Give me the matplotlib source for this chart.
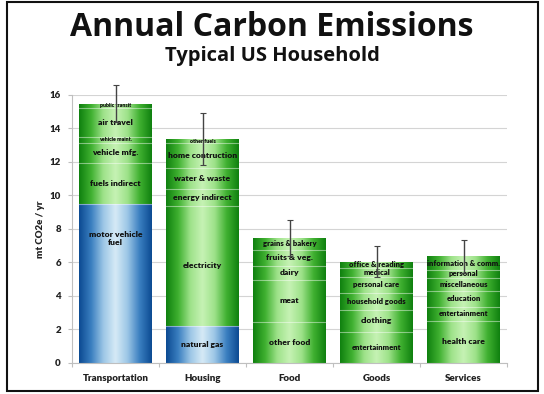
import numpy as np
import matplotlib
matplotlib.use("Agg")
import matplotlib.pyplot as plt
from matplotlib.patches import Rectangle
from matplotlib.colors import LinearSegmentedColormap

categories = ["Transportation", "Housing", "Food", "Goods", "Services"]

# stacked segments per category, bottom to top
seg_labels = [
    ["motor vehicle\nfuel", "fuels indirect", "vehicle mfg.", "vehicle maint.", "air travel", "public transit"],
    ["natural gas", "electricity", "energy indirect", "water & waste", "home contruction", "other fuels"],
    ["other food", "meat", "dairy", "fruits & veg.", "grains & bakery"],
    ["entertainment", "clothing", "household goods", "personal care", "medical", "office & reading"],
    ["health care", "entertainment", "education", "miscellaneous", "personal", "information & comm."],
]
seg_values = [
    [9.5, 2.44, 1.2, 0.36, 1.75, 0.24],
    [2.22, 7.16, 1.0, 1.26, 1.5, 0.21],
    [2.46, 2.49, 0.84, 0.96, 0.72],
    [1.86, 1.3, 1.03, 0.92, 0.54, 0.38],
    [2.51, 0.81, 0.99, 0.78, 0.46, 0.8],
]
# blue = direct fuel use, green = other
seg_kind = [
    ["blue", "green", "green", "green", "green", "green"],
    ["blue", "green", "green", "green", "green", "green"],
    ["green"] * 5,
    ["green"] * 6,
    ["green"] * 6,
]
errors = [1.1, 1.55, 1.07, 0.92, 1.0]
small_labels = {"public transit", "vehicle maint.", "other fuels"}
mid_labels = {"office & reading", "medical", "information & comm.", "personal",
              "miscellaneous", "education", "entertainment", "personal care",
              "household goods", "grains & bakery"}

fig = plt.figure(figsize=(5.44, 3.94), dpi=100)
ax = fig.add_axes([72/544, 1-362.7/394, 435/544, (362.7-95)/394])

cmaps = {
    "green": LinearSegmentedColormap.from_list("g", ["#0f800f", "#3fb030", "#9ee28a", "#c6f2b4", "#9ee28a", "#3fb030", "#0f800f"]),
    "blue": LinearSegmentedColormap.from_list("b", ["#0c4a92", "#3a7fc0", "#9cc6e6", "#d6eaf6", "#9cc6e6", "#3a7fc0", "#0c4a92"]),
}
grad = np.linspace(0, 1, 256).reshape(1, -1)

width = 0.83
x = np.arange(len(categories))
totals = []
for i, (labs, vals, kinds) in enumerate(zip(seg_labels, seg_values, seg_kind)):
    bottoms = np.concatenate([[0], np.cumsum(vals)[:-1]])
    totals.append(sum(vals))
    bars = ax.bar([x[i]] * len(vals), vals, width=width, bottom=bottoms,
                  facecolor="none", edgecolor="none", zorder=2)
    for p, lab, kind, b, v in zip(bars, labs, kinds, bottoms, vals):
        x0, y0 = p.get_x(), p.get_y()
        w, h = p.get_width(), p.get_height()
        im = ax.imshow(grad, cmap=cmaps[kind], aspect="auto",
                       extent=[x0, x0 + w, y0, y0 + h], zorder=1, interpolation="bicubic")
        im.set_clip_path(p)
        if b > 0:
            ax.plot([x0, x0 + w], [y0, y0], color=(1, 1, 1, 0.45), lw=0.8, zorder=2)
        if lab.startswith("motor"):
            ty = y0 + h * 0.78
        else:
            ty = y0 + h / 2
        if lab in small_labels:
            fs = 3.8
        elif lab in mid_labels:
            fs = 5.5
        else:
            fs = 6.1
        ax.text(p.get_x() + w / 2, ty, lab, ha="center", va="center", fontsize=fs,
                fontweight="heavy", family="Lato", color="#111111", zorder=3,
                linespacing=1.1)

ax.errorbar(x, totals, yerr=errors, fmt="none", ecolor="#444444", elinewidth=1.0,
            capsize=2, capthick=0.8, zorder=4, clip_on=False)

ax.set_xlim(-0.5, 4.5)
ax.set_ylim(0, 16)
ax.set_yticks(np.arange(0, 17, 2))
ax.grid(axis="y", color="#d4d4d4", lw=0.8, zorder=0)
ax.set_axisbelow(True)
for s in ["top", "right"]:
    ax.spines[s].set_visible(False)
for s in ["left", "bottom"]:
    ax.spines[s].set_color("#bfbfbf")
    ax.spines[s].set_linewidth(0.8)

ax.set_xticks(np.arange(-0.5, 5, 1))
ax.set_xticklabels([])
ax.set_xticks(x, minor=True)
ax.set_xticklabels(categories, minor=True)
ax.tick_params(axis="x", which="minor", length=0, pad=8)
ax.tick_params(axis="x", which="major", length=3, color="#bfbfbf")
ax.tick_params(axis="y", length=3, color="#bfbfbf", pad=5)
for t in ax.get_yticklabels() + ax.get_xticklabels(minor=True):
    t.set_fontsize(7)
    t.set_fontweight("heavy")
    t.set_family("Lato")
    t.set_color("#222222")
ax.set_ylabel("mt CO2e / yr", fontsize=7, fontweight="heavy", family="Lato",
              color="#222222", labelpad=3)

fig.text(0.5, 1 - 27/394, "Annual Carbon Emissions", ha="center", va="center",
         fontsize=23, fontweight="bold", family="Open Sans", color="#111111")
fig.text(0.5, 1 - 56/394, "Typical US Household", ha="center", va="center",
         fontsize=14.5, fontweight="bold", family="Open Sans", color="#111111")

fig.patches.append(Rectangle((7/544, 1 - 391/394), 531/544, 389/394, transform=fig.transFigure,
                             fill=False, edgecolor="#111111", lw=1.5))

fig.savefig("out.png", dpi=100)
